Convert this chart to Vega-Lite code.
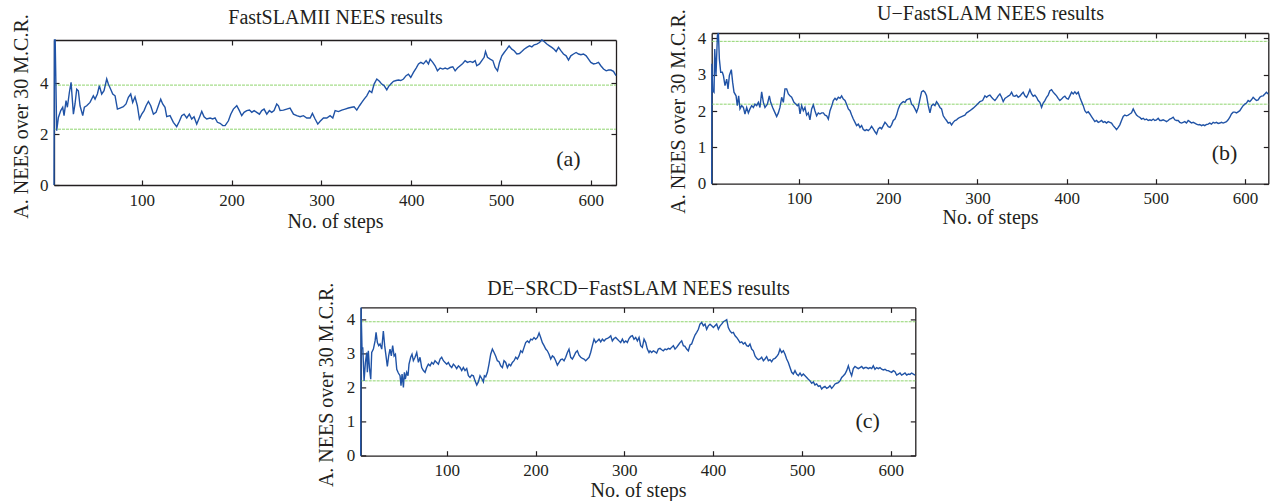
{
"$schema": "https://vega.github.io/schema/vega-lite/v6.json",
"padding": {"left": 10, "top": 3, "right": 0, "bottom": 0},
"background": "white",
"config": {
  "font": "Liberation Serif",
  "view": {"stroke": null},
  "axis": {"grid": false, "domainColor": "#231f20", "domainWidth": 1.3, "tickColor": "#231f20", "tickWidth": 1.2, "tickSize": -5,
           "labelFont": "Liberation Serif", "labelFontSize": 17, "labelColor": "#231f20",
           "titleFont": "Liberation Serif", "titleFontSize": 20, "titleFontWeight": "normal", "titleColor": "#231f20"}
},
"datasets": {
"a": [{"s":2.3,"v":0},{"s":2.8,"v":5.69},{"s":3.6,"v":5.69},{"s":5.3,"v":2.13},{"s":7.2,"v":2.65},{"s":9.8,"v":2.92},{"s":12.0,"v":3.05},{"s":13.5,"v":2.72},{"s":15.7,"v":3.31},{"s":17.2,"v":3.05},{"s":19.4,"v":3.63},{"s":21.3,"v":4.03},{"s":23.9,"v":2.78},{"s":25.7,"v":3.18},{"s":27.6,"v":3.76},{"s":29.4,"v":3.70},{"s":31.3,"v":3.11},{"s":34.3,"v":2.72},{"s":36.1,"v":3.05},{"s":38.7,"v":3.11},{"s":42.4,"v":3.24},{"s":46.1,"v":3.50},{"s":48.0,"v":3.37},{"s":50.6,"v":3.57},{"s":52.8,"v":3.90},{"s":55.4,"v":3.57},{"s":58.0,"v":3.70},{"s":61.0,"v":4.16},{"s":62.8,"v":3.96},{"s":65.4,"v":3.76},{"s":67.7,"v":3.57},{"s":70.3,"v":3.50},{"s":72.9,"v":2.98},{"s":75.8,"v":3.02},{"s":79.5,"v":3.07},{"s":82.5,"v":3.18},{"s":85.1,"v":3.44},{"s":87.7,"v":3.57},{"s":89.9,"v":3.24},{"s":92.5,"v":3.46},{"s":95.1,"v":3.11},{"s":97.4,"v":2.59},{"s":100,"v":2.78},{"s":102.6,"v":2.92},{"s":104.8,"v":3.11},{"s":107.4,"v":3.28},{"s":110,"v":3.11},{"s":113,"v":2.78},{"s":115.9,"v":2.85},{"s":118.5,"v":3.11},{"s":121.1,"v":3.37},{"s":123.3,"v":3.18},{"s":125.9,"v":3.05},{"s":127.8,"v":2.68},{"s":131.5,"v":2.72},{"s":135.2,"v":2.46},{"s":138.9,"v":2.29},{"s":141.9,"v":2.50},{"s":144.5,"v":2.72},{"s":147.1,"v":2.78},{"s":150.1,"v":2.63},{"s":153,"v":2.78},{"s":155.6,"v":2.59},{"s":158.2,"v":2.68},{"s":161.2,"v":2.39},{"s":164.2,"v":2.65},{"s":166.8,"v":2.89},{"s":169.4,"v":2.68},{"s":172.3,"v":2.59},{"s":176.1,"v":2.63},{"s":179,"v":2.59},{"s":181.6,"v":2.63},{"s":184.2,"v":2.46},{"s":187.2,"v":2.42},{"s":190.2,"v":2.33},{"s":192.8,"v":2.33},{"s":196.5,"v":2.52},{"s":199.1,"v":2.78},{"s":202,"v":2.98},{"s":205.8,"v":3.11},{"s":208.7,"v":2.92},{"s":211.3,"v":2.72},{"s":213.9,"v":2.85},{"s":216.9,"v":2.92},{"s":219.9,"v":2.94},{"s":222.5,"v":2.85},{"s":225.1,"v":2.92},{"s":228,"v":2.85},{"s":231,"v":2.78},{"s":233.6,"v":2.92},{"s":236.2,"v":2.98},{"s":239.2,"v":2.78},{"s":242.1,"v":2.92},{"s":244.7,"v":2.85},{"s":247.3,"v":2.92},{"s":250.3,"v":3.18},{"s":252.2,"v":3.11},{"s":254,"v":2.92},{"s":257.7,"v":2.94},{"s":261.4,"v":2.98},{"s":265.1,"v":3.02},{"s":268.9,"v":2.78},{"s":272.6,"v":2.72},{"s":276.3,"v":2.68},{"s":280,"v":2.72},{"s":283.7,"v":2.63},{"s":287.5,"v":2.63},{"s":290,"v":2.81},{"s":293,"v":2.59},{"s":296,"v":2.39},{"s":298.6,"v":2.50},{"s":302.3,"v":2.63},{"s":306,"v":2.63},{"s":309.7,"v":2.72},{"s":312.7,"v":2.63},{"s":315.3,"v":2.92},{"s":319,"v":2.88},{"s":322.7,"v":2.94},{"s":326.4,"v":2.98},{"s":330.1,"v":3.02},{"s":333.8,"v":3.05},{"s":336.4,"v":3.07},{"s":339.4,"v":2.94},{"s":342.4,"v":3.11},{"s":345,"v":3.24},{"s":347.6,"v":3.37},{"s":350.5,"v":3.50},{"s":353.5,"v":3.70},{"s":356.1,"v":3.63},{"s":358.7,"v":3.96},{"s":361.7,"v":4.16},{"s":364.6,"v":4.07},{"s":367.2,"v":3.96},{"s":369.8,"v":3.90},{"s":372.8,"v":3.73},{"s":374.7,"v":3.86},{"s":377.3,"v":3.96},{"s":380.2,"v":4.07},{"s":383.2,"v":4.10},{"s":385.8,"v":4.12},{"s":388.4,"v":4.10},{"s":391.4,"v":4.16},{"s":394.3,"v":4.29},{"s":396.9,"v":4.35},{"s":399.5,"v":4.22},{"s":402.5,"v":4.42},{"s":405.5,"v":4.59},{"s":408.1,"v":4.75},{"s":410.7,"v":4.81},{"s":413.6,"v":4.75},{"s":416.6,"v":4.88},{"s":419.2,"v":4.75},{"s":421.1,"v":4.94},{"s":424,"v":4.81},{"s":426.6,"v":4.68},{"s":429.2,"v":4.48},{"s":432.2,"v":4.59},{"s":435.2,"v":4.55},{"s":437.8,"v":4.59},{"s":440.4,"v":4.55},{"s":443.3,"v":4.61},{"s":446.3,"v":4.64},{"s":448.9,"v":4.48},{"s":451.5,"v":4.59},{"s":454.5,"v":4.68},{"s":457.4,"v":4.77},{"s":460,"v":4.88},{"s":462.6,"v":4.81},{"s":465.6,"v":4.85},{"s":468.6,"v":4.81},{"s":471.2,"v":4.88},{"s":473,"v":4.68},{"s":476,"v":4.75},{"s":478.6,"v":4.88},{"s":481.2,"v":5.01},{"s":482.7,"v":5.24},{"s":484.9,"v":5.01},{"s":487.9,"v":4.94},{"s":490.9,"v":4.88},{"s":493.4,"v":4.61},{"s":496.1,"v":4.48},{"s":498.3,"v":4.81},{"s":500.9,"v":5.07},{"s":503.5,"v":5.20},{"s":506.4,"v":5.33},{"s":509,"v":5.46},{"s":512,"v":5.33},{"s":514.6,"v":5.27},{"s":517.6,"v":5.14},{"s":520.5,"v":5.16},{"s":523.1,"v":5.24},{"s":525.7,"v":5.33},{"s":528.7,"v":5.40},{"s":531.7,"v":5.46},{"s":534.3,"v":5.42},{"s":536.9,"v":5.50},{"s":539.8,"v":5.53},{"s":542.8,"v":5.59},{"s":545.4,"v":5.69},{"s":548,"v":5.63},{"s":551,"v":5.53},{"s":553.9,"v":5.46},{"s":556.5,"v":5.40},{"s":559.1,"v":5.33},{"s":561.4,"v":5.24},{"s":564,"v":5.40},{"s":566.6,"v":5.27},{"s":569.5,"v":5.14},{"s":572.5,"v":5.07},{"s":575.1,"v":4.90},{"s":577.7,"v":5.07},{"s":580.7,"v":5.14},{"s":583.6,"v":5.20},{"s":586.3,"v":5.14},{"s":588.9,"v":5.11},{"s":591.8,"v":5.14},{"s":594.8,"v":5.07},{"s":597.4,"v":4.94},{"s":600,"v":4.81},{"s":603,"v":4.75},{"s":605.9,"v":4.77},{"s":608.5,"v":4.81},{"s":611.1,"v":4.68},{"s":614.1,"v":4.55},{"s":617.1,"v":4.48},{"s":619.7,"v":4.51},{"s":622.3,"v":4.51},{"s":625.2,"v":4.46},{"s":628,"v":4.29}],
"b": [{"s":2.2,"v":0},{"s":2.4,"v":3.30},{"s":3.3,"v":2.56},{"s":4.8,"v":2.52},{"s":5.6,"v":3.71},{"s":7.0,"v":2.98},{"s":8.6,"v":4.08},{"s":9.7,"v":4.15},{"s":10.8,"v":3.43},{"s":12.3,"v":3.07},{"s":14.1,"v":3.07},{"s":15.3,"v":2.98},{"s":17.1,"v":2.70},{"s":19.0,"v":2.88},{"s":20.5,"v":2.61},{"s":22.0,"v":2.98},{"s":24.2,"v":3.14},{"s":25.7,"v":2.79},{"s":27.2,"v":2.52},{"s":29.5,"v":2.42},{"s":30.9,"v":2.15},{"s":32.4,"v":2.42},{"s":33.9,"v":2.06},{"s":35.8,"v":2.15},{"s":37.7,"v":2.10},{"s":39.5,"v":1.92},{"s":41.4,"v":2.10},{"s":43.3,"v":1.95},{"s":45.1,"v":2.06},{"s":47.0,"v":2.15},{"s":48.9,"v":2.10},{"s":50.7,"v":2.19},{"s":52.6,"v":2.15},{"s":54.5,"v":2.24},{"s":56.3,"v":2.10},{"s":58.2,"v":2.53},{"s":60.1,"v":2.24},{"s":61.9,"v":2.10},{"s":64.6,"v":2.19},{"s":66.8,"v":2.42},{"s":68.3,"v":2.24},{"s":70.5,"v":2.10},{"s":73.2,"v":1.95},{"s":75.0,"v":1.85},{"s":76.9,"v":1.95},{"s":78.7,"v":2.10},{"s":80.6,"v":2.38},{"s":82.5,"v":2.24},{"s":84.3,"v":2.61},{"s":86.2,"v":2.61},{"s":88.1,"v":2.47},{"s":89.9,"v":2.42},{"s":91.8,"v":2.38},{"s":94.4,"v":2.24},{"s":96.7,"v":2.19},{"s":98.2,"v":2.15},{"s":99.7,"v":2.19},{"s":101.2,"v":1.92},{"s":103.0,"v":2.15},{"s":104.9,"v":2.01},{"s":106.7,"v":2.10},{"s":108.6,"v":1.89},{"s":110.5,"v":1.95},{"s":112.3,"v":1.76},{"s":114.2,"v":2.06},{"s":116.1,"v":2.17},{"s":117.9,"v":2.01},{"s":119.8,"v":1.87},{"s":121.7,"v":1.95},{"s":123.5,"v":1.92},{"s":125.4,"v":1.95},{"s":127.3,"v":1.95},{"s":129.2,"v":1.89},{"s":131.0,"v":1.87},{"s":132.9,"v":1.78},{"s":134.8,"v":2.01},{"s":136.6,"v":2.13},{"s":138.5,"v":2.29},{"s":140.4,"v":2.35},{"s":142.2,"v":2.31},{"s":144.1,"v":2.38},{"s":146.0,"v":2.35},{"s":147.8,"v":2.42},{"s":149.7,"v":2.33},{"s":151.6,"v":2.29},{"s":153.4,"v":2.19},{"s":155.3,"v":2.06},{"s":157.2,"v":2.01},{"s":159.0,"v":1.89},{"s":160.9,"v":1.78},{"s":162.8,"v":1.69},{"s":164.6,"v":1.60},{"s":166.5,"v":1.64},{"s":168.4,"v":1.55},{"s":170.2,"v":1.60},{"s":172.1,"v":1.49},{"s":174.0,"v":1.46},{"s":175.8,"v":1.49},{"s":177.7,"v":1.46},{"s":179.6,"v":1.51},{"s":181.4,"v":1.58},{"s":183.3,"v":1.51},{"s":185.2,"v":1.43},{"s":187.0,"v":1.37},{"s":188.9,"v":1.51},{"s":190.8,"v":1.55},{"s":192.6,"v":1.51},{"s":194.5,"v":1.60},{"s":196.4,"v":1.69},{"s":198.2,"v":1.64},{"s":200.1,"v":1.57},{"s":202.0,"v":1.55},{"s":203.8,"v":1.62},{"s":205.7,"v":1.74},{"s":207.6,"v":1.78},{"s":209.4,"v":1.89},{"s":211.3,"v":2.06},{"s":213.2,"v":2.17},{"s":215.0,"v":2.22},{"s":216.9,"v":2.26},{"s":218.8,"v":2.24},{"s":220.6,"v":2.31},{"s":222.5,"v":2.33},{"s":224.4,"v":2.35},{"s":226.2,"v":2.19},{"s":228.1,"v":2.15},{"s":230.0,"v":2.06},{"s":231.8,"v":1.97},{"s":233.7,"v":2.10},{"s":235.6,"v":2.33},{"s":237.4,"v":2.53},{"s":239.3,"v":2.56},{"s":241.2,"v":2.52},{"s":243.0,"v":2.42},{"s":244.9,"v":2.15},{"s":246.8,"v":1.95},{"s":248.6,"v":2.15},{"s":250.5,"v":2.19},{"s":252.4,"v":2.15},{"s":254.2,"v":2.26},{"s":256.1,"v":2.19},{"s":258.0,"v":2.10},{"s":259.8,"v":2.06},{"s":261.7,"v":1.87},{"s":263.6,"v":1.80},{"s":265.4,"v":1.74},{"s":267.3,"v":1.67},{"s":269.2,"v":1.69},{"s":271.0,"v":1.62},{"s":272.9,"v":1.69},{"s":274.8,"v":1.74},{"s":276.6,"v":1.76},{"s":278.5,"v":1.80},{"s":280.4,"v":1.83},{"s":282.3,"v":1.85},{"s":284.1,"v":1.87},{"s":286.0,"v":1.89},{"s":287.9,"v":1.95},{"s":289.7,"v":1.98},{"s":291.6,"v":2.01},{"s":295.3,"v":2.08},{"s":299.1,"v":2.17},{"s":302.8,"v":2.26},{"s":305.8,"v":2.29},{"s":308.4,"v":2.42},{"s":310.3,"v":2.38},{"s":312.1,"v":2.42},{"s":314.0,"v":2.44},{"s":315.9,"v":2.38},{"s":317.7,"v":2.33},{"s":319.6,"v":2.29},{"s":321.5,"v":2.35},{"s":323.3,"v":2.42},{"s":325.2,"v":2.47},{"s":327.1,"v":2.38},{"s":328.9,"v":2.26},{"s":330.8,"v":2.35},{"s":332.7,"v":2.38},{"s":334.5,"v":2.41},{"s":336.4,"v":2.44},{"s":338.3,"v":2.52},{"s":340.1,"v":2.42},{"s":342.0,"v":2.41},{"s":343.9,"v":2.44},{"s":345.7,"v":2.38},{"s":347.6,"v":2.41},{"s":349.5,"v":2.47},{"s":351.3,"v":2.52},{"s":353.2,"v":2.42},{"s":355.1,"v":2.38},{"s":356.9,"v":2.47},{"s":358.8,"v":2.59},{"s":360.7,"v":2.47},{"s":362.5,"v":2.41},{"s":364.4,"v":2.44},{"s":366.3,"v":2.38},{"s":368.1,"v":2.29},{"s":370.0,"v":2.24},{"s":371.9,"v":2.10},{"s":373.7,"v":2.22},{"s":375.6,"v":2.29},{"s":377.5,"v":2.38},{"s":379.3,"v":2.44},{"s":381.2,"v":2.56},{"s":383.1,"v":2.59},{"s":384.9,"v":2.52},{"s":386.8,"v":2.47},{"s":388.7,"v":2.42},{"s":390.5,"v":2.35},{"s":392.4,"v":2.29},{"s":394.3,"v":2.33},{"s":396.1,"v":2.38},{"s":398.0,"v":2.41},{"s":399.9,"v":2.35},{"s":401.8,"v":2.33},{"s":403.6,"v":2.42},{"s":405.5,"v":2.52},{"s":407.4,"v":2.47},{"s":409.2,"v":2.53},{"s":411.1,"v":2.47},{"s":413.0,"v":2.52},{"s":414.8,"v":2.38},{"s":416.7,"v":2.26},{"s":418.6,"v":2.15},{"s":420.4,"v":2.01},{"s":422.3,"v":1.95},{"s":424.2,"v":1.98},{"s":426.0,"v":1.92},{"s":427.9,"v":1.85},{"s":429.8,"v":1.78},{"s":431.6,"v":1.71},{"s":433.5,"v":1.74},{"s":435.4,"v":1.69},{"s":437.2,"v":1.71},{"s":439.1,"v":1.74},{"s":441.0,"v":1.69},{"s":442.8,"v":1.71},{"s":444.7,"v":1.67},{"s":446.6,"v":1.71},{"s":448.4,"v":1.69},{"s":450.3,"v":1.67},{"s":452.2,"v":1.60},{"s":454.0,"v":1.55},{"s":455.9,"v":1.49},{"s":457.8,"v":1.55},{"s":459.6,"v":1.62},{"s":461.5,"v":1.74},{"s":463.4,"v":1.85},{"s":465.2,"v":1.89},{"s":467.1,"v":1.87},{"s":469.0,"v":1.89},{"s":470.8,"v":1.92},{"s":472.7,"v":1.95},{"s":474.6,"v":2.06},{"s":476.4,"v":1.97},{"s":478.3,"v":1.89},{"s":480.2,"v":1.85},{"s":482.0,"v":1.83},{"s":483.9,"v":1.78},{"s":485.8,"v":1.80},{"s":487.6,"v":1.76},{"s":489.5,"v":1.78},{"s":491.4,"v":1.74},{"s":493.2,"v":1.76},{"s":495.1,"v":1.74},{"s":497.0,"v":1.78},{"s":498.8,"v":1.74},{"s":500.7,"v":1.76},{"s":502.6,"v":1.80},{"s":504.4,"v":1.74},{"s":506.3,"v":1.74},{"s":508.2,"v":1.76},{"s":510.0,"v":1.74},{"s":511.9,"v":1.71},{"s":513.8,"v":1.74},{"s":515.6,"v":1.78},{"s":517.5,"v":1.80},{"s":519.4,"v":1.83},{"s":521.2,"v":1.76},{"s":523.1,"v":1.74},{"s":525.0,"v":1.74},{"s":526.8,"v":1.69},{"s":528.7,"v":1.67},{"s":530.6,"v":1.69},{"s":532.4,"v":1.71},{"s":534.3,"v":1.67},{"s":536.2,"v":1.74},{"s":538.0,"v":1.71},{"s":539.9,"v":1.67},{"s":541.8,"v":1.69},{"s":543.6,"v":1.67},{"s":545.5,"v":1.64},{"s":547.4,"v":1.62},{"s":549.2,"v":1.63},{"s":551.1,"v":1.60},{"s":553.0,"v":1.62},{"s":554.8,"v":1.60},{"s":556.7,"v":1.63},{"s":558.6,"v":1.64},{"s":560.4,"v":1.67},{"s":562.3,"v":1.64},{"s":564.2,"v":1.69},{"s":566.0,"v":1.67},{"s":567.9,"v":1.69},{"s":569.8,"v":1.66},{"s":571.7,"v":1.67},{"s":573.5,"v":1.69},{"s":575.4,"v":1.67},{"s":577.3,"v":1.69},{"s":579.1,"v":1.71},{"s":581.0,"v":1.76},{"s":582.9,"v":1.83},{"s":584.7,"v":1.92},{"s":586.6,"v":1.97},{"s":588.5,"v":1.97},{"s":590.3,"v":1.95},{"s":592.2,"v":1.98},{"s":594.1,"v":2.01},{"s":595.9,"v":2.08},{"s":597.8,"v":2.15},{"s":599.7,"v":2.19},{"s":601.5,"v":2.22},{"s":603.4,"v":2.29},{"s":605.3,"v":2.26},{"s":607.1,"v":2.31},{"s":609.0,"v":2.38},{"s":610.9,"v":2.33},{"s":612.7,"v":2.29},{"s":614.6,"v":2.31},{"s":616.5,"v":2.38},{"s":618.3,"v":2.41},{"s":620.2,"v":2.42},{"s":622.1,"v":2.47},{"s":623.9,"v":2.52},{"s":625.8,"v":2.47}],
"c": [{"s":3.1,"v":0},{"s":3.5,"v":4.34},{"s":4.6,"v":3.12},{"s":5.4,"v":3.17},{"s":6.9,"v":2.19},{"s":8.4,"v":2.73},{"s":9.9,"v":3.02},{"s":10.6,"v":2.44},{"s":11.7,"v":3.07},{"s":12.9,"v":2.58},{"s":14.4,"v":2.24},{"s":15.5,"v":3.02},{"s":17.4,"v":3.12},{"s":19.3,"v":3.36},{"s":20.4,"v":3.61},{"s":21.9,"v":3.31},{"s":23.4,"v":3.22},{"s":24.9,"v":3.27},{"s":26.8,"v":3.12},{"s":28.6,"v":3.65},{"s":30.1,"v":3.22},{"s":31.6,"v":2.92},{"s":33.1,"v":2.61},{"s":34.6,"v":2.92},{"s":36.1,"v":3.12},{"s":37.6,"v":2.92},{"s":39.1,"v":3.22},{"s":40.7,"v":2.92},{"s":42.2,"v":2.97},{"s":43.7,"v":2.53},{"s":45.5,"v":2.42},{"s":47.4,"v":2.34},{"s":48.5,"v":2.05},{"s":49.7,"v":2.39},{"s":51.2,"v":2.00},{"s":52.3,"v":2.44},{"s":53.4,"v":2.24},{"s":54.9,"v":2.44},{"s":56.4,"v":2.34},{"s":57.5,"v":2.68},{"s":59.4,"v":2.88},{"s":60.9,"v":2.97},{"s":62.4,"v":2.78},{"s":64.3,"v":2.88},{"s":66.2,"v":3.02},{"s":68.1,"v":2.73},{"s":69.9,"v":2.88},{"s":71.8,"v":2.58},{"s":73.7,"v":2.49},{"s":75.6,"v":2.44},{"s":77.4,"v":2.58},{"s":79.3,"v":2.68},{"s":81.2,"v":2.63},{"s":83.1,"v":2.73},{"s":85.0,"v":2.68},{"s":86.8,"v":2.78},{"s":88.7,"v":2.73},{"s":90.6,"v":2.68},{"s":92.5,"v":2.83},{"s":94.3,"v":2.88},{"s":96.2,"v":2.78},{"s":98.1,"v":2.73},{"s":100.0,"v":2.68},{"s":101.8,"v":2.73},{"s":103.7,"v":2.63},{"s":105.6,"v":2.58},{"s":107.5,"v":2.68},{"s":109.3,"v":2.63},{"s":111.2,"v":2.55},{"s":113.1,"v":2.63},{"s":115.0,"v":2.58},{"s":116.9,"v":2.49},{"s":118.7,"v":2.58},{"s":120.6,"v":2.49},{"s":122.5,"v":2.55},{"s":124.4,"v":2.34},{"s":126.2,"v":2.29},{"s":128.1,"v":2.36},{"s":130.0,"v":2.34},{"s":131.9,"v":2.19},{"s":133.8,"v":2.07},{"s":135.6,"v":2.16},{"s":137.5,"v":2.34},{"s":139.4,"v":2.26},{"s":141.3,"v":2.16},{"s":142.4,"v":2.34},{"s":143.9,"v":2.31},{"s":145.8,"v":2.44},{"s":147.6,"v":2.68},{"s":149.5,"v":2.97},{"s":151.4,"v":3.12},{"s":153.3,"v":3.02},{"s":155.1,"v":2.92},{"s":157.0,"v":2.78},{"s":158.9,"v":2.75},{"s":160.8,"v":2.63},{"s":162.7,"v":2.58},{"s":164.5,"v":2.78},{"s":166.4,"v":2.73},{"s":168.3,"v":2.58},{"s":170.2,"v":2.68},{"s":172.0,"v":2.63},{"s":173.9,"v":2.73},{"s":175.8,"v":2.78},{"s":177.7,"v":2.88},{"s":179.6,"v":2.83},{"s":181.4,"v":2.92},{"s":183.3,"v":3.07},{"s":185.2,"v":3.02},{"s":187.1,"v":3.17},{"s":188.9,"v":3.31},{"s":190.8,"v":3.36},{"s":192.7,"v":3.31},{"s":194.6,"v":3.41},{"s":196.4,"v":3.39},{"s":198.3,"v":3.46},{"s":200.2,"v":3.41},{"s":202.1,"v":3.46},{"s":204.0,"v":3.59},{"s":205.8,"v":3.46},{"s":207.7,"v":3.31},{"s":209.6,"v":3.22},{"s":211.5,"v":3.12},{"s":213.3,"v":3.07},{"s":215.2,"v":2.97},{"s":217.1,"v":2.83},{"s":219.0,"v":2.92},{"s":220.8,"v":2.88},{"s":222.7,"v":2.78},{"s":224.6,"v":2.65},{"s":226.5,"v":2.73},{"s":228.4,"v":2.81},{"s":230.2,"v":2.83},{"s":232.1,"v":2.78},{"s":234.0,"v":2.88},{"s":235.9,"v":3.02},{"s":237.7,"v":3.12},{"s":239.6,"v":2.88},{"s":241.5,"v":2.83},{"s":243.4,"v":2.92},{"s":245.2,"v":3.02},{"s":247.1,"v":3.07},{"s":249.0,"v":2.94},{"s":250.9,"v":2.88},{"s":252.8,"v":2.85},{"s":254.6,"v":2.83},{"s":256.5,"v":2.78},{"s":258.4,"v":2.83},{"s":260.3,"v":2.88},{"s":262.1,"v":3.02},{"s":264.0,"v":3.22},{"s":265.9,"v":3.41},{"s":267.8,"v":3.31},{"s":269.6,"v":3.36},{"s":271.5,"v":3.41},{"s":273.4,"v":3.33},{"s":275.3,"v":3.41},{"s":277.2,"v":3.36},{"s":279.0,"v":3.41},{"s":280.9,"v":3.43},{"s":282.8,"v":3.46},{"s":284.7,"v":3.51},{"s":286.5,"v":3.36},{"s":288.4,"v":3.43},{"s":290.3,"v":3.46},{"s":292.2,"v":3.41},{"s":294.0,"v":3.36},{"s":295.9,"v":3.31},{"s":297.8,"v":3.41},{"s":299.7,"v":3.31},{"s":301.6,"v":3.36},{"s":303.4,"v":3.31},{"s":305.3,"v":3.43},{"s":307.2,"v":3.49},{"s":309.1,"v":3.51},{"s":310.9,"v":3.41},{"s":312.8,"v":3.46},{"s":314.7,"v":3.36},{"s":316.6,"v":3.46},{"s":318.4,"v":3.22},{"s":320.3,"v":3.17},{"s":322.2,"v":3.41},{"s":324.1,"v":3.31},{"s":325.9,"v":3.12},{"s":327.8,"v":3.02},{"s":328.9,"v":3.07},{"s":330.8,"v":3.02},{"s":332.7,"v":3.07},{"s":334.6,"v":3.04},{"s":336.4,"v":3.00},{"s":338.3,"v":3.12},{"s":340.2,"v":3.14},{"s":342.1,"v":3.10},{"s":343.9,"v":3.07},{"s":345.8,"v":3.12},{"s":347.7,"v":3.10},{"s":349.6,"v":3.14},{"s":351.4,"v":3.12},{"s":353.3,"v":3.17},{"s":355.2,"v":3.22},{"s":357.1,"v":3.12},{"s":358.9,"v":3.17},{"s":360.8,"v":3.24},{"s":362.7,"v":3.31},{"s":364.6,"v":3.36},{"s":366.5,"v":3.22},{"s":368.3,"v":3.20},{"s":370.2,"v":3.12},{"s":372.1,"v":3.07},{"s":374.0,"v":3.24},{"s":375.8,"v":3.27},{"s":377.7,"v":3.41},{"s":379.6,"v":3.53},{"s":381.5,"v":3.61},{"s":383.4,"v":3.70},{"s":385.2,"v":3.85},{"s":387.1,"v":3.90},{"s":389.0,"v":3.80},{"s":390.9,"v":3.85},{"s":392.7,"v":3.70},{"s":394.6,"v":3.80},{"s":396.5,"v":3.85},{"s":398.4,"v":3.80},{"s":400.3,"v":3.75},{"s":402.1,"v":3.80},{"s":404.0,"v":3.85},{"s":405.9,"v":3.70},{"s":407.8,"v":3.80},{"s":409.6,"v":3.85},{"s":411.5,"v":3.92},{"s":413.4,"v":3.95},{"s":415.3,"v":3.98},{"s":417.1,"v":3.75},{"s":419.0,"v":3.65},{"s":420.9,"v":3.59},{"s":422.8,"v":3.61},{"s":424.7,"v":3.51},{"s":426.5,"v":3.46},{"s":428.4,"v":3.39},{"s":430.3,"v":3.31},{"s":432.2,"v":3.33},{"s":434.0,"v":3.27},{"s":435.9,"v":3.31},{"s":437.8,"v":3.22},{"s":439.7,"v":3.20},{"s":441.5,"v":3.27},{"s":443.4,"v":3.12},{"s":445.3,"v":3.07},{"s":447.2,"v":2.92},{"s":449.1,"v":2.85},{"s":450.9,"v":2.81},{"s":452.8,"v":2.83},{"s":454.7,"v":2.88},{"s":456.6,"v":2.78},{"s":458.4,"v":2.83},{"s":460.3,"v":2.90},{"s":462.2,"v":2.78},{"s":464.1,"v":2.81},{"s":465.9,"v":2.75},{"s":467.8,"v":2.83},{"s":469.7,"v":2.85},{"s":471.6,"v":2.90},{"s":473.5,"v":2.97},{"s":475.3,"v":3.12},{"s":477.2,"v":3.02},{"s":479.1,"v":3.07},{"s":481.0,"v":2.97},{"s":482.8,"v":2.83},{"s":484.7,"v":2.73},{"s":486.6,"v":2.58},{"s":488.5,"v":2.44},{"s":490.3,"v":2.39},{"s":492.2,"v":2.49},{"s":494.1,"v":2.39},{"s":496.0,"v":2.34},{"s":497.9,"v":2.42},{"s":499.7,"v":2.34},{"s":501.6,"v":2.39},{"s":503.5,"v":2.34},{"s":505.4,"v":2.29},{"s":507.2,"v":2.24},{"s":509.1,"v":2.19},{"s":511.0,"v":2.12},{"s":512.9,"v":2.16},{"s":514.7,"v":2.07},{"s":516.6,"v":2.10},{"s":518.5,"v":2.03},{"s":520.4,"v":2.05},{"s":522.3,"v":1.95},{"s":524.1,"v":2.00},{"s":526.0,"v":2.03},{"s":527.9,"v":1.97},{"s":529.8,"v":2.00},{"s":531.6,"v":2.05},{"s":533.5,"v":1.97},{"s":535.4,"v":2.03},{"s":537.3,"v":2.10},{"s":539.1,"v":2.12},{"s":541.0,"v":2.14},{"s":542.9,"v":2.19},{"s":544.8,"v":2.29},{"s":546.7,"v":2.34},{"s":548.5,"v":2.39},{"s":550.4,"v":2.49},{"s":552.3,"v":2.63},{"s":554.2,"v":2.46},{"s":556.0,"v":2.34},{"s":557.9,"v":2.55},{"s":559.8,"v":2.61},{"s":561.7,"v":2.58},{"s":563.5,"v":2.55},{"s":565.4,"v":2.58},{"s":567.3,"v":2.61},{"s":569.2,"v":2.55},{"s":571.1,"v":2.58},{"s":572.9,"v":2.58},{"s":574.8,"v":2.55},{"s":576.7,"v":2.58},{"s":578.6,"v":2.55},{"s":580.4,"v":2.63},{"s":582.3,"v":2.53},{"s":584.2,"v":2.58},{"s":586.1,"v":2.55},{"s":587.9,"v":2.58},{"s":589.8,"v":2.53},{"s":591.7,"v":2.51},{"s":593.6,"v":2.53},{"s":595.5,"v":2.49},{"s":597.3,"v":2.49},{"s":599.2,"v":2.46},{"s":601.1,"v":2.44},{"s":603.0,"v":2.49},{"s":604.8,"v":2.46},{"s":606.7,"v":2.36},{"s":608.6,"v":2.39},{"s":610.5,"v":2.42},{"s":612.3,"v":2.36},{"s":614.2,"v":2.39},{"s":616.1,"v":2.42},{"s":618.0,"v":2.36},{"s":619.9,"v":2.39},{"s":621.7,"v":2.38},{"s":623.6,"v":2.42},{"s":625.5,"v":2.39},{"s":627.4,"v":2.36}],
"bounds": [{"g": 2.19}, {"g": 3.92}],
"one": [{}]
},
"bounds": "flush",
"spacing": 122.4,
"vconcat": [
 {
  "width": 1214.3, "height": 152,
  "layer": [
   {"data": {"name": "bounds"}, "mark": {"type": "rule", "color": "#8fd46e", "strokeWidth": 1, "strokeDash": [3, 1]},
    "encoding": {
     "x": {"datum": 2.3, "type": "quantitative", "scale": {"domain": [2.3, 628], "range": [0, 562], "nice": false, "zero": false}, "axis": null},
     "x2": {"datum": 628},
     "y": {"field": "g", "type": "quantitative", "scale": {"domain": [0, 5.69], "range": [152, 7], "nice": false}, "axis": null}}},
   {"data": {"name": "a"}, "mark": {"type": "line", "color": "#2053a6", "strokeWidth": 1.4},
    "encoding": {
     "x": {"field": "s", "type": "quantitative", "scale": {"domain": [2.3, 628], "range": [0, 562], "nice": false, "zero": false},
           "axis": {"orient": "bottom", "values": [100, 200, 300, 400, 500, 600], "title": "No. of steps", "labelPadding": 12, "titleY": 36, "titleBaseline": "middle"}},
     "y": {"field": "v", "type": "quantitative", "scale": {"domain": [0, 5.69], "range": [152, 7], "nice": false},
           "axis": {"orient": "left", "values": [0, 2, 4], "title": "A. NEES over 30 M.C.R.", "labelPadding": 11, "titleX": -33, "titleY": 83, "titleBaseline": "middle"}}
    }},
   {"data": {"name": "one"}, "mark": {"type": "text", "text": "(a)", "fontSize": 22, "font": "Liberation Serif", "color": "#231f20"},
    "encoding": {
     "x": {"datum": 575, "type": "quantitative", "scale": {"domain": [2.3, 628], "range": [0, 562], "nice": false, "zero": false}, "axis": null},
     "y": {"datum": 1.03, "type": "quantitative", "scale": {"domain": [0, 5.69], "range": [152, 7], "nice": false}, "axis": null}}},
   {"data": {"name": "a"}, "mark": {"type": "line", "opacity": 0},
    "encoding": {
     "x": {"field": "s", "type": "quantitative", "scale": {"domain": [2.3, 628], "range": [0, 562], "nice": false, "zero": false},
           "axis": {"orient": "top", "labels": false, "offset": -7, "values": [100, 200, 300, 400, 500, 600], "title": "FastSLAMII NEES results", "titleY": -22.5, "titleBaseline": "middle"}},
     "y": {"field": "v", "type": "quantitative", "scale": {"domain": [0, 5.69], "range": [152, 7], "nice": false},
           "axis": {"orient": "right", "labels": false, "title": null, "offset": -652.3, "values": [0, 2, 4]}}
    }},
   {"data": {"name": "bounds"}, "mark": {"type": "rule", "color": "#8fd46e", "strokeWidth": 1, "strokeDash": [3, 1]},
    "encoding": {
     "x": {"datum": 2.2, "type": "quantitative", "scale": {"domain": [2.2, 626], "range": [657.7, 1214.3], "nice": false, "zero": false}, "axis": null},
     "x2": {"datum": 626},
     "y": {"field": "g", "type": "quantitative", "scale": {"domain": [0, 4.15], "range": [150.7, 0], "nice": false}, "axis": null}}},
   {"data": {"name": "b"}, "mark": {"type": "line", "color": "#2053a6", "strokeWidth": 1.4},
    "encoding": {
     "x": {"field": "s", "type": "quantitative", "scale": {"domain": [2.2, 626], "range": [657.7, 1214.3], "nice": false, "zero": false},
           "axis": {"orient": "bottom", "offset": -1.3, "values": [100, 200, 300, 400, 500, 600], "title": "No. of steps", "labelPadding": 12, "titleY": 34, "titleBaseline": "middle"}},
     "y": {"field": "v", "type": "quantitative", "scale": {"domain": [0, 4.15], "range": [150.7, 0], "nice": false},
           "axis": {"orient": "left", "offset": -657.7, "values": [0, 1, 2, 3, 4], "title": "A. NEES over 30 M.C.R.", "labelPadding": 11, "titleX": -33, "titleY": 78, "titleBaseline": "middle"}}
    }},
   {"data": {"name": "one"}, "mark": {"type": "text", "text": "(b)", "fontSize": 22, "font": "Liberation Serif", "color": "#231f20"},
    "encoding": {
     "x": {"datum": 577, "type": "quantitative", "scale": {"domain": [2.2, 626], "range": [657.7, 1214.3], "nice": false, "zero": false}, "axis": null},
     "y": {"datum": 0.85, "type": "quantitative", "scale": {"domain": [0, 4.15], "range": [150.7, 0], "nice": false}, "axis": null}}},
   {"data": {"name": "b"}, "mark": {"type": "line", "opacity": 0},
    "encoding": {
     "x": {"field": "s", "type": "quantitative", "scale": {"domain": [2.2, 626], "range": [657.7, 1214.3], "nice": false, "zero": false},
           "axis": {"orient": "top", "labels": false, "values": [100, 200, 300, 400, 500, 600], "title": "U−FastSLAM NEES results", "titleY": -19.3, "titleBaseline": "middle"}},
     "y": {"field": "v", "type": "quantitative", "scale": {"domain": [0, 4.15], "range": [150.7, 0], "nice": false},
           "axis": {"orient": "right", "labels": false, "title": null, "values": [0, 1, 2, 3, 4]}}
    }}
  ],
  "resolve": {"scale": {"x": "independent", "y": "independent"}, "axis": {"x": "independent", "y": "independent"}}
 },
 {
  "width": 861.3, "height": 148.3,
  "layer": [
   {"data": {"name": "bounds"}, "mark": {"type": "rule", "color": "#8fd46e", "strokeWidth": 1, "strokeDash": [3, 1]},
    "encoding": {
     "x": {"datum": 3.1, "type": "quantitative", "scale": {"domain": [3.1, 627.7], "range": [306.7, 861.3], "nice": false, "zero": false}, "axis": null},
     "x2": {"datum": 627.7},
     "y": {"field": "g", "type": "quantitative", "scale": {"domain": [0, 4.34], "nice": false}, "axis": null}}},
   {"data": {"name": "c"}, "mark": {"type": "line", "color": "#2053a6", "strokeWidth": 1.4},
    "encoding": {
     "x": {"field": "s", "type": "quantitative", "scale": {"domain": [3.1, 627.7], "range": [306.7, 861.3], "nice": false, "zero": false},
           "axis": {"orient": "bottom", "values": [100, 200, 300, 400, 500, 600], "title": "No. of steps", "labelPadding": 12, "titleY": 35, "titleBaseline": "middle"}},
     "y": {"field": "v", "type": "quantitative", "scale": {"domain": [0, 4.34], "nice": false},
           "axis": {"orient": "left", "offset": -306.7, "values": [0, 1, 2, 3, 4], "title": "A. NEES over 30 M.C.R.", "labelPadding": 11, "titleX": -34, "titleY": 77, "titleBaseline": "middle"}}
    }},
   {"data": {"name": "one"}, "mark": {"type": "text", "text": "(c)", "fontSize": 22, "font": "Liberation Serif", "color": "#231f20"},
    "encoding": {"x": {"datum": 574, "type": "quantitative", "axis": null}, "y": {"datum": 1.02, "type": "quantitative", "axis": null}}},
   {"data": {"name": "c"}, "mark": {"type": "line", "opacity": 0},
    "encoding": {
     "x": {"field": "s", "type": "quantitative", "axis": {"orient": "top", "labels": false, "values": [100, 200, 300, 400, 500, 600], "title": "DE−SRCD−FastSLAM NEES results", "titleY": -18.7, "titleBaseline": "middle"}},
     "y": {"field": "v", "type": "quantitative", "axis": {"orient": "right", "labels": false, "title": null, "values": [0, 1, 2, 3, 4]}}
    }}
  ],
  "resolve": {"axis": {"x": "independent", "y": "independent"}}
 }
]
}
